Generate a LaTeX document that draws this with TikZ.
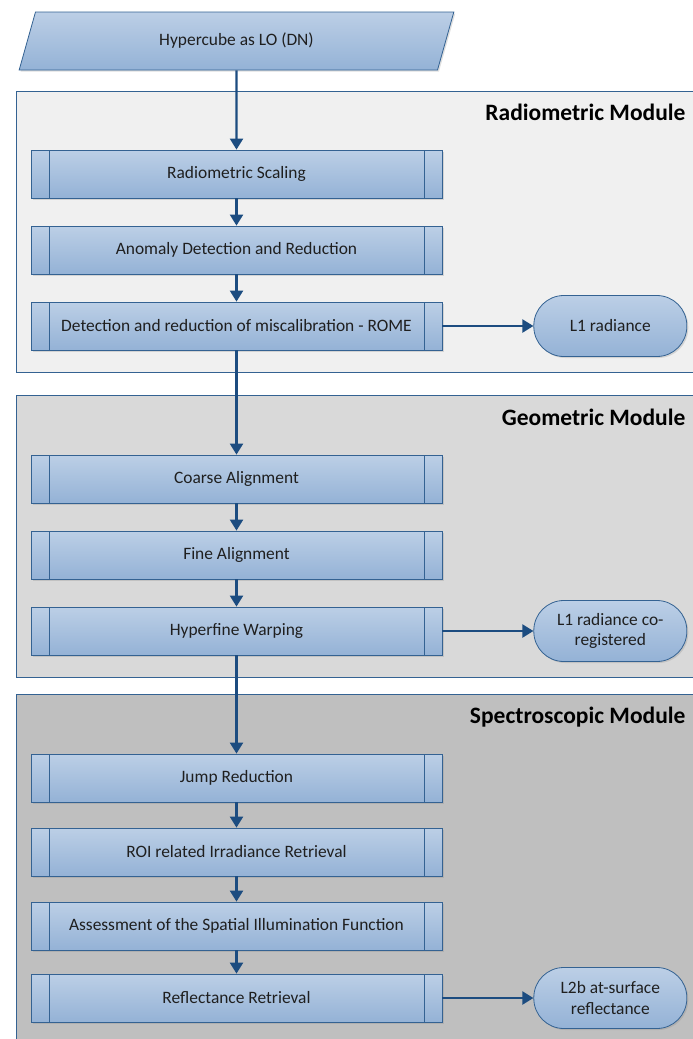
\documentclass[tikz,border=0pt]{standalone}
\usepackage{fontspec}
\setmainfont{Carlito}
\usetikzlibrary{arrows.meta,positioning,shapes.geometric,shadows}
\definecolor{myblue}{RGB}{28,76,128}
\definecolor{myedge}{RGB}{52,98,146}
\definecolor{mytop}{RGB}{188,207,230}
\definecolor{mybottom}{RGB}{148,178,214}
\definecolor{modone}{RGB}{240,240,240}
\definecolor{modtwo}{RGB}{217,217,217}
\definecolor{modthree}{RGB}{191,191,191}

\begin{document}
\begin{tikzpicture}[x=1pt, y=-1pt, >={Triangle[width=13pt,length=11pt]},
    every node/.style={font=\fontsize{17.4}{20.5}\selectfont, text=black!88},
    blueshade/.style={draw=myedge, line width=0.8pt, top color=mytop, bottom color=mybottom,
      drop shadow={opacity=0.25, shadow xshift=1.5pt, shadow yshift=-1.5pt}},
    process/.style={blueshade, rectangle, minimum width=411pt, minimum height=48pt, inner sep=0pt,
      path picture={
        \draw[myedge, line width=0.8pt] ([xshift=18pt]path picture bounding box.north west) -- ([xshift=18pt]path picture bounding box.south west);
        \draw[myedge, line width=0.8pt] ([xshift=-18pt]path picture bounding box.north east) -- ([xshift=-18pt]path picture bounding box.south east);}},
    terminal/.style={blueshade, rectangle, rounded corners=30pt, minimum width=153pt, minimum height=61pt,
      align=center, inner sep=0pt},
    module/.style={draw=myedge, line width=0.8pt},
    modtitle/.style={anchor=east, font=\bfseries\fontsize{23.5}{27}\selectfont, text=black},
    flow/.style={->, draw=myblue, line width=2.2pt}]
  \useasboundingbox (0,0) rectangle (693,1039);

  % Draw the three module backgrounds
  \draw[module, fill=modone] (16,91) rectangle (695,372);
  \draw[module, fill=modtwo] (16,395) rectangle (695,677);
  \draw[module, fill=modthree] (16,694) rectangle (695,1045);
  \node[modtitle] (radtitle) at (689,112) {Radiometric Module};
  \node[modtitle] (geotitle) at (689,417) {Geometric Module};
  \node[modtitle] (spectitle) at (689,717) {Spectroscopic Module};

  % Input data
  \node[blueshade, trapezium, trapezium left angle=68, trapezium right angle=112, trapezium stretches=true,
    minimum width=435pt, minimum height=58pt, inner sep=0pt] (input) at (236.5,41) {Hypercube as LO (DN)};

  % Radiometric steps
  \node[process] (rscale) at (236.5,174) {Radiometric Scaling};
  \node[process] (anomaly) at (236.5,250) {Anomaly Detection and Reduction};
  \node[process] (rome) at (236.5,326) {Detection and reduction of miscalibration - ROME};
  \node[terminal, right=91pt of rome] (lone) {L1 radiance};

  % Geometric steps
  \node[process] (coarse) at (236.5,479) {Coarse Alignment};
  \node[process] (fine) at (236.5,555) {Fine Alignment};
  \node[process] (warp) at (236.5,631) {Hyperfine Warping};
  \node[terminal, right=91pt of warp] (lonereg) {L1 radiance co-\\registered};

  % Spectroscopic steps
  \node[process] (jump) at (236.5,778) {Jump Reduction};
  \node[process] (roi) at (236.5,852) {ROI related Irradiance Retrieval};
  \node[process] (assess) at (236.5,926) {Assessment of the Spatial Illumination Function};
  \node[process] (refl) at (236.5,998) {Reflectance Retrieval};
  \node[terminal, right=91pt of refl] (ltwob) {L2b at-surface\\reflectance};

  % Connect everything
  \draw[flow] (input) -- (rscale);
  \draw[flow] (rscale) -- (anomaly);
  \draw[flow] (anomaly) -- (rome);
  \draw[flow] (rome) -- (lone);
  \draw[flow] (rome) -- (coarse);
  \draw[flow] (coarse) -- (fine);
  \draw[flow] (fine) -- (warp);
  \draw[flow] (warp) -- (lonereg);
  \draw[flow] (warp) -- (jump);
  \draw[flow] (jump) -- (roi);
  \draw[flow] (roi) -- (assess);
  \draw[flow] (assess) -- (refl);
  \draw[flow] (refl) -- (ltwob);
\end{tikzpicture}
\end{document}
